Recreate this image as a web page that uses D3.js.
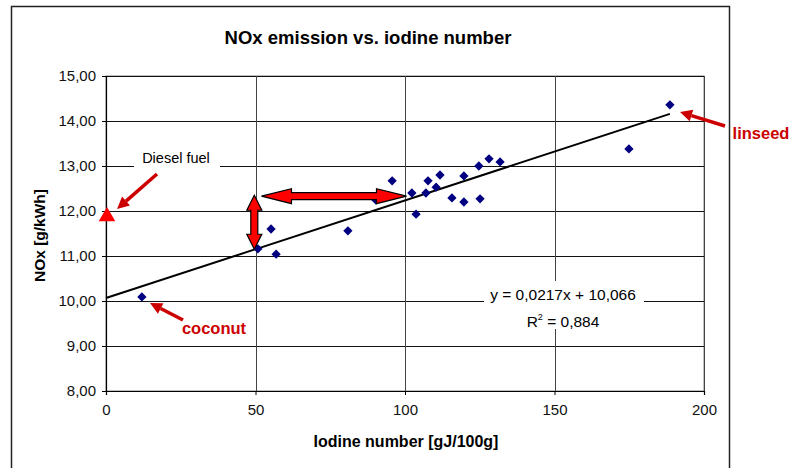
<!DOCTYPE html>
<html>
<head>
<meta charset="utf-8">
<script src="https://cdn.jsdelivr.net/npm/d3@7"></script>
<style>
  html, body { margin: 0; padding: 0; background: #fff; }
  svg { display: block; font-family: "Liberation Sans", Arial, sans-serif; }
</style>
</head>
<body>
<svg id="chart" width="792" height="468"></svg>
<script>
// ---- data ----
const iodine = [12.0, 50.8, 55.2, 56.9, 80.9, 90.3, 95.7, 102.3, 103.7, 107.0, 107.7, 110.4, 111.7, 115.7, 119.7, 119.7, 124.7, 125.1, 128.1, 131.8, 174.9, 188.6];
const nox    = [10.09, 11.16, 11.60, 11.04, 11.56, 12.24, 12.67, 12.40, 11.93, 12.40, 12.67, 12.53, 12.80, 12.29, 12.78, 12.20, 13.00, 12.27, 13.16, 13.09, 13.38, 14.36];
const xTicks = [0, 50, 100, 150, 200];
const yTicks = [8, 9, 10, 11, 12, 13, 14, 15];
const fitSlope = 0.0217, fitIntercept = 10.066;
const fitRange = [0, 188.6];
const dieselPoint = [0, 11.9];

const svg = d3.select("#chart");
const fmtY = v => d3.format(".2f")(v).replace(".", ",");

// outer chart frame
svg.append("rect").attr("x", 11.5).attr("y", 6.5).attr("width", 718).attr("height", 480)
  .attr("fill", "#fff").attr("stroke", "#222").attr("stroke-width", 1.5);

const x = d3.scaleLinear().domain([0, 200]).range([106, 704]);
const y = d3.scaleLinear().domain([8, 15]).range([391, 76]);

// plot area border
svg.append("rect").attr("x", x(0)).attr("y", y(15)).attr("width", x(200) - x(0)).attr("height", y(8) - y(15))
  .attr("fill", "none").attr("stroke", "#808080").attr("stroke-width", 1);

// gridlines
svg.append("g").selectAll("line").data(yTicks.slice(1)).join("line")
  .attr("x1", x(0)).attr("x2", x(200)).attr("y1", d => Math.round(y(d)) + 0.5).attr("y2", d => Math.round(y(d)) + 0.5)
  .attr("stroke", "#111").attr("stroke-width", 1);
svg.append("g").selectAll("line").data(xTicks.slice(1)).join("line")
  .attr("y1", y(8)).attr("y2", y(15)).attr("x1", d => Math.round(x(d)) + 0.5).attr("x2", d => Math.round(x(d)) + 0.5)
  .attr("stroke", "#444").attr("stroke-width", 1);

// axes
const xAxis = svg.append("g").attr("transform", `translate(0,${y(8)})`)
  .call(d3.axisBottom(x).tickValues(xTicks).tickSize(4).tickPadding(9));
const yAxis = svg.append("g").attr("transform", `translate(${x(0)},0)`)
  .call(d3.axisLeft(y).tickValues(yTicks).tickFormat(fmtY).tickSize(4).tickPadding(6));
[xAxis, yAxis].forEach(a => {
  a.select(".domain").attr("stroke", "#000").attr("stroke-width", 1.2);
  a.selectAll(".tick line").attr("stroke", "#000");
  a.selectAll("text").attr("font-size", 15).attr("fill", "#111").attr("font-family", "Liberation Sans, Arial, sans-serif");
});

// titles
svg.append("text").attr("x", 368).attr("y", 44).attr("text-anchor", "middle")
  .attr("font-size", 18.5).attr("font-weight", "bold").text("NOx emission vs. iodine number");
svg.append("text").attr("x", 406).attr("y", 447).attr("text-anchor", "middle")
  .attr("font-size", 16).attr("font-weight", "bold").text("Iodine number [gJ/100g]");
svg.append("text").attr("transform", `translate(45,${(y(8) + y(15)) / 2 + 2}) rotate(-90)`).attr("text-anchor", "middle")
  .attr("font-size", 15.5).attr("font-weight", "bold").text("NOx [g/kWh]");

// trendline
svg.append("line")
  .attr("x1", x(fitRange[0])).attr("y1", y(fitSlope * fitRange[0] + fitIntercept))
  .attr("x2", x(fitRange[1])).attr("y2", y(fitSlope * fitRange[1] + fitIntercept))
  .attr("stroke", "#000").attr("stroke-width", 2);

// data points (diamonds)
svg.append("g").selectAll("path").data(iodine.map((v, i) => [v, nox[i]])).join("path")
  .attr("d", d3.symbol(d3.symbolDiamond2, 55))
  .attr("transform", d => `translate(${x(d[0])},${y(d[1])})`)
  .attr("fill", "#000080");

// diesel triangle
svg.append("path").attr("d", d3.symbol(d3.symbolTriangle, 120))
  .attr("transform", `translate(${x(dieselPoint[0]) + 1},${y(dieselPoint[1]) + 1})`)
  .attr("fill", "#ff0000");

// equation label (white box)
svg.append("rect").attr("x", 484).attr("y", 281).attr("width", 160).attr("height", 48).attr("fill", "#fff");
svg.append("text").attr("x", 563).attr("y", 300).attr("text-anchor", "middle").attr("font-size", 15.5)
  .text("y = 0,0217x + 10,066");
const r2 = svg.append("text").attr("x", 563).attr("y", 327).attr("text-anchor", "middle").attr("font-size", 15.5);
r2.append("tspan").text("R");
r2.append("tspan").attr("font-size", 9).attr("dy", -7).text("2");
r2.append("tspan").attr("dy", 7).text(" = 0,884");

// Diesel fuel label
svg.append("rect").attr("x", 134).attr("y", 147).attr("width", 86).attr("height", 22).attr("fill", "#fff");
svg.append("text").attr("x", 176).attr("y", 163).attr("text-anchor", "middle").attr("font-size", 14.5).text("Diesel fuel");

// small red arrows
function thinArrow(x1, y1, x2, y2) {
  const ang = Math.atan2(y2 - y1, x2 - x1);
  const L = 12, W = 6;
  const bx = x2 - L * Math.cos(ang), by = y2 - L * Math.sin(ang);
  svg.append("line").attr("x1", x1).attr("y1", y1).attr("x2", bx).attr("y2", by)
    .attr("stroke", "#cc0000").attr("stroke-width", 3.5);
  const px = -Math.sin(ang) * W, py = Math.cos(ang) * W;
  svg.append("path").attr("d", `M${x2},${y2}L${bx + px},${by + py}L${bx - px},${by - py}Z`)
    .attr("fill", "#cc0000");
}
thinArrow(157, 174, 117, 209);
thinArrow(183, 320, 150, 303);
thinArrow(725, 126, 680, 112);

svg.append("text").attr("x", 214).attr("y", 334).attr("text-anchor", "middle").attr("font-size", 16.5)
  .attr("font-weight", "bold").attr("fill", "#cc0000").text("coconut");
svg.append("text").attr("x", 761).attr("y", 139).attr("text-anchor", "middle").attr("font-size", 16.5)
  .attr("font-weight", "bold").attr("fill", "#cc0000").text("linseed");

// big double arrows
function doubleArrowH(xa, xb, yc) {
  const hl = 30, hh = 7.5, sh = 3.5;
  const d = `M${xa},${yc}L${xa + hl},${yc - hh}L${xa + hl},${yc - sh}L${xb - hl},${yc - sh}L${xb - hl},${yc - hh}L${xb},${yc}` +
            `L${xb - hl},${yc + hh}L${xb - hl},${yc + sh}L${xa + hl},${yc + sh}L${xa + hl},${yc + hh}Z`;
  svg.append("path").attr("d", d).attr("fill", "#ff0000").attr("stroke", "#000").attr("stroke-width", 1.2);
}
function doubleArrowV(xc, ya, yb) {
  const hl = 15, hw = 7.5, sw = 3.5;
  const d = `M${xc},${ya}L${xc + hw},${ya + hl}L${xc + sw},${ya + hl}L${xc + sw},${yb - hl}L${xc + hw},${yb - hl}L${xc},${yb}` +
            `L${xc - hw},${yb - hl}L${xc - sw},${yb - hl}L${xc - sw},${ya + hl}L${xc - hw},${ya + hl}Z`;
  svg.append("path").attr("d", d).attr("fill", "#ff0000").attr("stroke", "#000").attr("stroke-width", 1.2);
}
doubleArrowH(x(52), x(100.5), y(12.33));
doubleArrowV(x(49.6), y(12.35), y(11.15));
</script>
</body>
</html>
